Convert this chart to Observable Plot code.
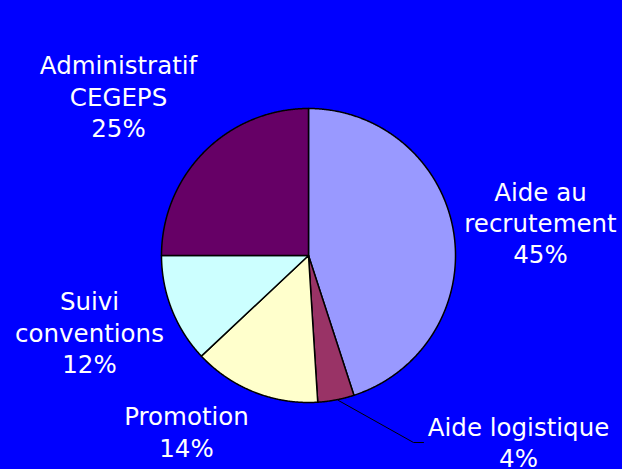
<!DOCTYPE html>
<html>
<head>
<meta charset="utf-8">
<script src="https://cdn.jsdelivr.net/npm/d3@7"></script>
<script src="https://cdn.jsdelivr.net/npm/@observablehq/plot@0.6"></script>
<style>
  html, body { margin: 0; padding: 0; background: #0000ff; }
  #chart { width: 622px; height: 469px; overflow: hidden; }
</style>
</head>
<body>
<div id="chart"></div>
<script>
// ---- data ----
const categories = ["Aide au recrutement", "Aide logistique", "Promotion", "Suivi conventions", "Administratif CEGEPS"];
const values = [45, 4, 14, 12, 25];
const labels = ["Aide au\nrecrutement\n45%", "Aide logistique\n4%", "Promotion\n14%", "Suivi\nconventions\n12%", "Administratif\nCEGEPS\n25%"];
const colors = ["#9999ff", "#993366", "#ffffcc", "#ccffff", "#660066"];

// ---- layout (pixels) ----
const W = 622, H = 469, CX = 308, CY = 255, R = 147;
const labelPx = [[540, 221.5], [518, 441], [186, 430.5], [89, 331], [118, 95]];
const leaderPx = [[338, 400], [413, 442], [423, 442]];
const toX = px => (px - CX) / R;
const toY = py => (CY - py) / R;

const arcs = d3.pie().sort(null).value(d => d)(values);
const slicePts = [];
arcs.forEach((a, i) => {
  const n = Math.max(2, Math.ceil((a.endAngle - a.startAngle) / 0.005));
  slicePts.push({name: categories[i], color: colors[i], x: 0, y: 0});
  for (let k = 0; k <= n; k++) {
    const t = a.startAngle + (a.endAngle - a.startAngle) * k / n;
    slicePts.push({name: categories[i], color: colors[i], x: Math.sin(t), y: Math.cos(t)});
  }
  slicePts.push({name: categories[i], color: colors[i], x: 0, y: 0});
});

const labelData = labels.map((t, i) => ({text: t, x: toX(labelPx[i][0]), y: toY(labelPx[i][1])}));
const leaderData = leaderPx.map(([px, py]) => ({x: toX(px), y: toY(py)}));

const chart = Plot.plot({
  width: W,
  height: H,
  margin: 0,
  style: {background: "#0000ff", fontFamily: "DejaVu Sans, Verdana, sans-serif", overflow: "visible"},
  x: {domain: [toX(0), toX(W)], range: [0, W], axis: null},
  y: {domain: [toY(H), toY(0)], range: [H, 0], axis: null},
  color: {type: "identity"},
  marks: [
    Plot.line(slicePts, {x: "x", y: "y", z: "name", fill: "color", stroke: "#000", strokeWidth: 1.5, strokeLinejoin: "round", curve: "linear"}),
    Plot.line(leaderData, {x: "x", y: "y", stroke: "#000", strokeWidth: 1}),
    Plot.text(labelData, {x: "x", y: "y", text: "text", fill: "#ffffff", fontSize: 24.5, lineHeight: 1.28, textAnchor: "middle", lineAnchor: "middle"})
  ]
});
document.getElementById("chart").appendChild(chart);
</script>
</body>
</html>
